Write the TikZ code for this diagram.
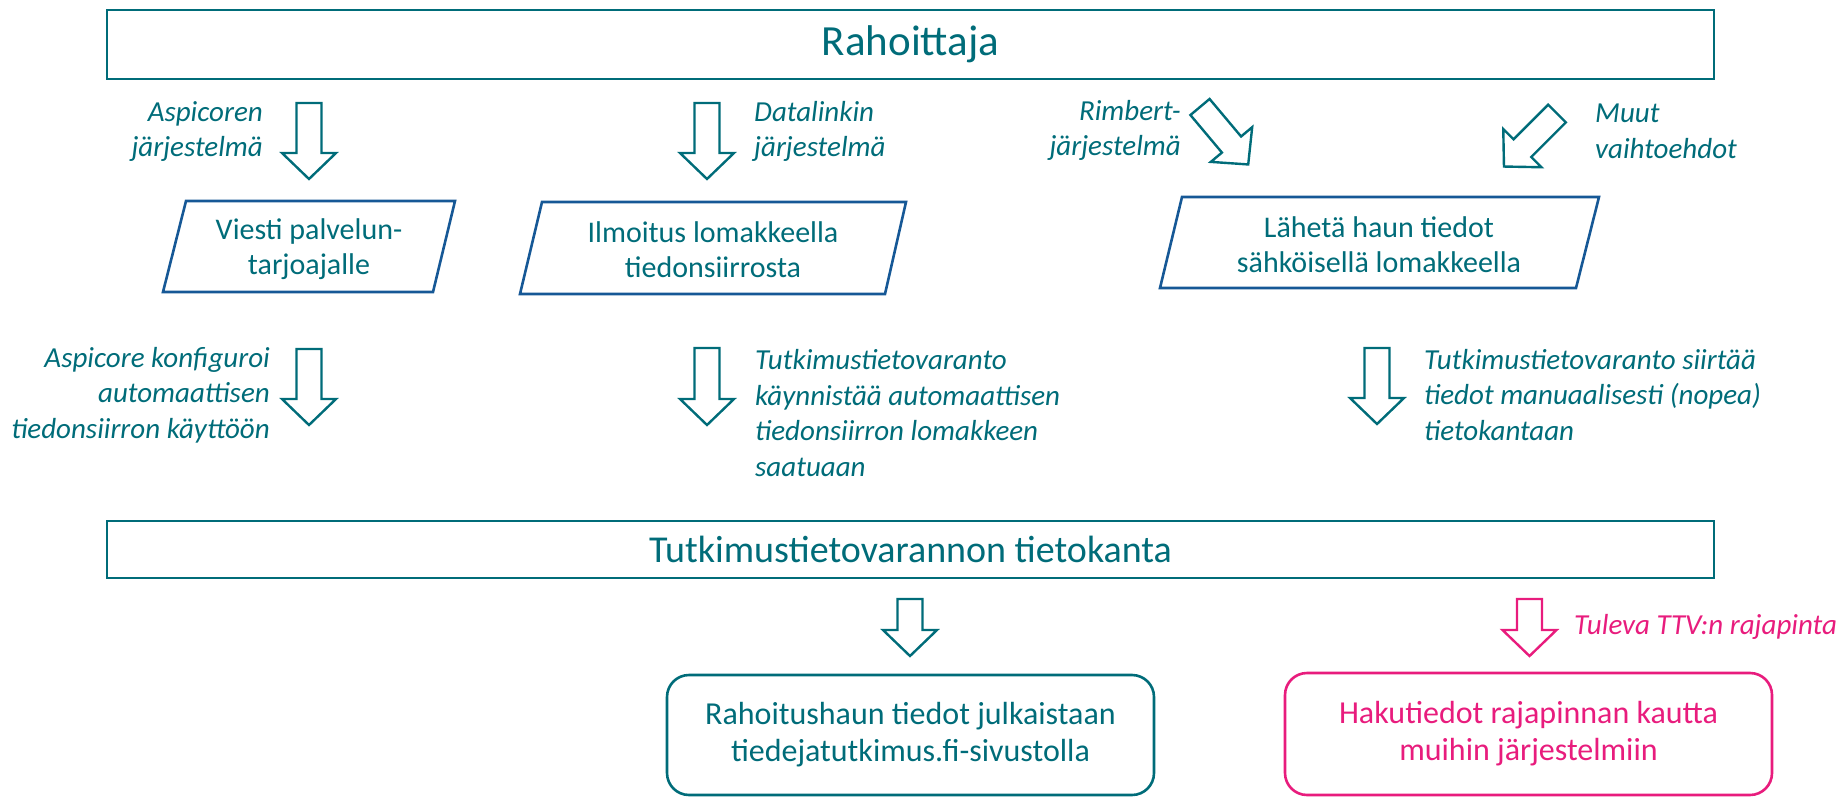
\documentclass[tikz,border=0pt]{standalone}
\usepackage{fontspec}
\setmainfont{Carlito}
\definecolor{ttvteal}{RGB}{0,108,121}
\definecolor{ttvblue}{RGB}{22,88,150}
\definecolor{ttvpink}{RGB}{232,28,125}
\tikzset{
  bigbox/.style={draw=ttvteal, line width=2.6pt, text=ttvteal, inner sep=0pt, minimum width=1607},
  ptext/.style={text=ttvteal, align=center, inner sep=0pt, font=\fontsize{30}{35}\selectfont},
  pshape/.style={draw=ttvblue, line width=2.6pt, line join=miter},
  lab/.style={text=ttvteal, inner sep=0pt, font=\fontsize{29}{35.5}\selectfont\itshape},
  rbox/.style={draw=ttvteal, text=ttvteal, line width=2.6pt, rounded corners=22pt, align=center, inner sep=0pt, font=\fontsize{32}{37}\selectfont},
  barrow/.pic={
    \draw[pic actions, line join=miter] (-12.5,0) -- (12.5,0) -- (12.5,#1) -- (27,#1) -- (0,#1+26) -- (-27,#1) -- (-12.5,#1) -- cycle;
  },
  tealarrow/.style={draw=ttvteal, line width=2.4pt},
  pinkarrow/.style={draw=ttvpink, line width=2.4pt}
}
\begin{document}
\begin{tikzpicture}[x=1pt,y=-1pt]
\useasboundingbox (0,0) rectangle (1847,797);

% top box
\node[bigbox, minimum height=69, font=\fontsize{43}{50}\selectfont] (rah) at (910.5,44.5) {Rahoittaja};

% top arrows
\coordinate (ta1) at (309,103);
\coordinate (ta2) at (707,103);
\coordinate (ta3) at (1200,107);
\coordinate (ta4) at (1557,113.5);
\pic[tealarrow] at (ta1) {barrow=50};
\pic[tealarrow] at (ta2) {barrow=50};
\pic[tealarrow, rotate=40] at (ta3) {barrow=49};
\pic[tealarrow, rotate=-45] at (ta4) {barrow=49};

% top labels
\node[lab, anchor=east, align=right] (l1) at (263,131.5) {Aspicoren\\järjestelmä};
\node[lab, anchor=west, align=left] (l2) at (754,131.5) {Datalinkin\\järjestelmä};
\node[lab, anchor=east, align=right] (l3) at (1181,130.5) {Rimbert-\\järjestelmä};
\node[lab, anchor=west, align=left] (l4) at (1595,131.5) {Muut\\vaihtoehdot};

% parallelograms
\draw[pshape] (186,201) -- (455,201) -- (433,292) -- (163,292) -- cycle;
\node[ptext] (p1) at (309,249) {Viesti palvelun-\\tarjoajalle};
\draw[pshape] (542,202) -- (906,202) -- (885,294) -- (520,294) -- cycle;
\node[ptext] (p2) at (713,250) {Ilmoitus lomakkeella\\tiedonsiirrosta};
\draw[pshape] (1182,197) -- (1599,197) -- (1576,288) -- (1160,288) -- cycle;
\node[ptext] (p3) at (1379,245) {Lähetä haun tiedot\\sähköisellä lomakkeella};

% middle arrows
\coordinate (ma1) at (309,349);
\coordinate (ma2) at (707,348);
\coordinate (ma3) at (1377,348);
\pic[tealarrow] at (ma1) {barrow=50};
\pic[tealarrow] at (ma2) {barrow=51};
\pic[tealarrow] at (ma3) {barrow=50};

% middle labels
\node[lab, anchor=east, align=right] (l5) at (270,395) {Aspicore konfiguroi\\automaattisen\\tiedonsiirron käyttöön};
\node[lab, anchor=west, align=left] (l6) at (755,413) {Tutkimustietovaranto\\käynnistää automaattisen\\tiedonsiirron lomakkeen\\saatuaan};
\node[lab, anchor=west, align=left] (l7) at (1424,395) {Tutkimustietovaranto siirtää\\tiedot manuaalisesti (nopea)\\tietokantaan};

% database box
\node[bigbox, minimum height=57, font=\fontsize{38}{44}\selectfont] (db) at (910.5,549.5) {Tutkimustietovarannon tietokanta};

% bottom arrows
\coordinate (ba1) at (910,599);
\coordinate (ba2) at (1529.5,599);
\pic[tealarrow] at (ba1) {barrow=31};
\pic[pinkarrow] at (ba2) {barrow=31};
\node[lab, text=ttvpink, anchor=west] (l8) at (1574,627) {Tuleva TTV:n rajapinta};

% bottom boxes
\node[rbox, minimum width=487, minimum height=120] (d1) at (910.5,735) {Rahoitushaun tiedot julkaistaan\\tiedejatutkimus.fi-sivustolla};
\node[rbox, draw=ttvpink, text=ttvpink, minimum width=487, minimum height=122] (d2) at (1528.5,734) {Hakutiedot rajapinnan kautta\\muihin järjestelmiin};
\end{tikzpicture}
\end{document}
